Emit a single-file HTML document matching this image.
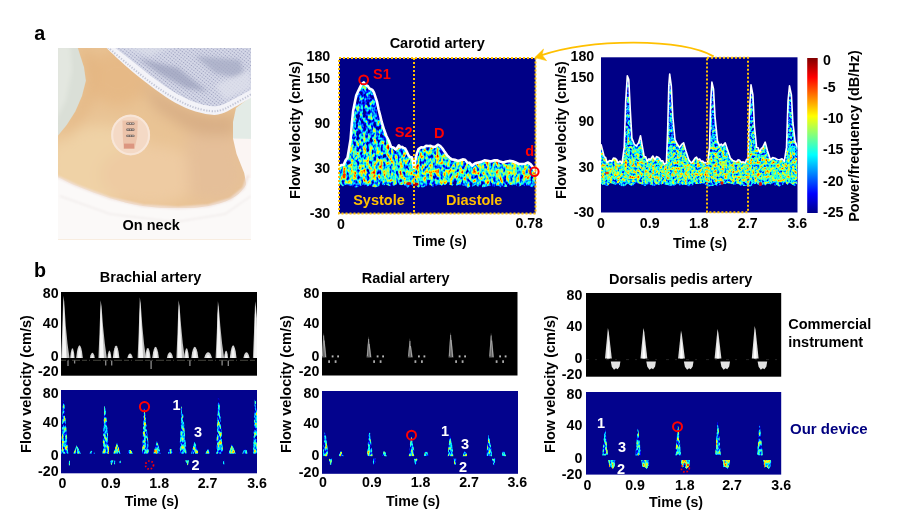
<!DOCTYPE html>
<html><head><meta charset="utf-8"><title>Figure</title>
<style>html,body{margin:0;padding:0;background:#fff}svg{display:block}text{font-family:"Liberation Sans", sans-serif;font-weight:bold}</style>
</head><body>
<svg width="911" height="520" viewBox="0 0 911 520">
<defs>
<filter id="jet" x="-2%" y="-2%" width="104%" height="104%" color-interpolation-filters="sRGB">
  <feTurbulence type="fractalNoise" baseFrequency="0.3 0.2" numOctaves="2" seed="4" result="n"/>
  <feColorMatrix in="n" type="matrix" values="1 0 0 0 0  1 0 0 0 0  1 0 0 0 0  0 0 0 0 1" result="ng"/>
  <feComposite in="SourceGraphic" in2="ng" operator="arithmetic" k1="0" k2="1" k3="1.5" k4="-0.75" result="v"/>
  <feComponentTransfer in="v" result="j">
    <feFuncR type="table" tableValues="0 0 0 0 0.5 1 1 1 0.5"/>
    <feFuncG type="table" tableValues="0 0 0.5 1 1 1 0.5 0 0"/>
    <feFuncB type="table" tableValues="0.54 1 1 1 0.5 0 0 0 0"/>
    <feFuncA type="linear" slope="0" intercept="1"/>
  </feComponentTransfer>
  <feGaussianBlur in="j" stdDeviation="0.45" result="jb"/>
  <feComposite in="jb" in2="SourceAlpha" operator="in"/>
</filter>
<filter id="jet2" x="-2%" y="-2%" width="104%" height="104%" color-interpolation-filters="sRGB">
  <feTurbulence type="fractalNoise" baseFrequency="0.4 0.34" numOctaves="2" seed="11" result="n"/>
  <feColorMatrix in="n" type="matrix" values="1 0 0 0 0  1 0 0 0 0  1 0 0 0 0  0 0 0 0 1" result="ng"/>
  <feComposite in="SourceGraphic" in2="ng" operator="arithmetic" k1="0" k2="1" k3="1.15" k4="-0.545" result="v"/>
  <feComponentTransfer in="v" result="j">
    <feFuncR type="table" tableValues="0 0 0 0 0.5 1 1 1 0.5"/>
    <feFuncG type="table" tableValues="0 0 0.5 1 1 1 0.5 0 0"/>
    <feFuncB type="table" tableValues="0.54 1 1 1 0.5 0 0 0 0"/>
    <feFuncA type="linear" slope="0" intercept="1"/>
  </feComponentTransfer>
  <feGaussianBlur in="j" stdDeviation="0.45" result="jb"/>
  <feComposite in="jb" in2="SourceAlpha" operator="in"/>
</filter>
<filter id="jet3" x="-2%" y="-2%" width="104%" height="104%" color-interpolation-filters="sRGB">
  <feTurbulence type="fractalNoise" baseFrequency="0.5 0.22" numOctaves="2" seed="5" result="n"/>
  <feColorMatrix in="n" type="matrix" values="1 0 0 0 0  1 0 0 0 0  1 0 0 0 0  0 0 0 0 1" result="ng"/>
  <feComposite in="SourceGraphic" in2="ng" operator="arithmetic" k1="0" k2="1" k3="1.25" k4="-0.625" result="v"/>
  <feComponentTransfer in="v" result="j">
    <feFuncR type="table" tableValues="0 0 0 0 0.5 1 1 1 0.5"/>
    <feFuncG type="table" tableValues="0 0 0.5 1 1 1 0.5 0 0"/>
    <feFuncB type="table" tableValues="0.54 1 1 1 0.5 0 0 0 0"/>
    <feFuncA type="linear" slope="0" intercept="1"/>
  </feComponentTransfer>
  <feGaussianBlur in="j" stdDeviation="0.45" result="jb"/>
  <feComposite in="jb" in2="SourceAlpha" operator="in"/>
</filter>
<linearGradient id="lvA" x1="0" y1="58" x2="0" y2="186" gradientUnits="userSpaceOnUse">
  <stop offset="0" stop-color="#2e2e2e"/><stop offset="0.55" stop-color="#3c3c3c"/><stop offset="0.8" stop-color="#6a6a6a"/><stop offset="0.93" stop-color="#747474"/><stop offset="0.975" stop-color="#585858"/><stop offset="1" stop-color="#303030"/>
</linearGradient>
<linearGradient id="lvB" x1="0" y1="390" x2="0" y2="474" gradientUnits="userSpaceOnUse">
  <stop offset="0" stop-color="#484848"/><stop offset="1" stop-color="#5e5e5e"/>
</linearGradient>
<linearGradient id="cbar" x1="0" y1="0" x2="0" y2="1">
  <stop offset="0" stop-color="#800000"/><stop offset="0.125" stop-color="#ff0000"/><stop offset="0.25" stop-color="#ff8000"/>
  <stop offset="0.375" stop-color="#ffff00"/><stop offset="0.5" stop-color="#80ff80"/><stop offset="0.625" stop-color="#00ffff"/>
  <stop offset="0.75" stop-color="#0080ff"/><stop offset="0.875" stop-color="#0000ff"/><stop offset="1" stop-color="#000089"/>
</linearGradient>
<filter id="b05"><feGaussianBlur stdDeviation="0.5"/></filter>
<filter id="b1"><feGaussianBlur stdDeviation="1"/></filter>
<filter id="b2"><feGaussianBlur stdDeviation="2"/></filter>
<filter id="b4"><feGaussianBlur stdDeviation="4"/></filter>
<filter id="b7" x="-30%" y="-30%" width="160%" height="160%"><feGaussianBlur stdDeviation="7"/></filter>
<clipPath id="cpPhoto"><rect x="58" y="48" width="193" height="191.5"/></clipPath>
<clipPath id="cpA1"><rect x="339" y="58" width="196.5" height="155.5"/></clipPath>
<clipPath id="cpA2"><rect x="601" y="57.3" width="196.5" height="155.2"/></clipPath>
</defs>
<text x="34.2" y="39.7" font-size="19.7" text-anchor="start" fill="#000" >a</text>
<text x="34.0" y="277.0" font-size="19.7" text-anchor="start" fill="#000" >b</text>
<g clip-path="url(#cpPhoto)">
<rect x="58" y="48" width="193" height="192" fill="#e9c394"/>
<defs><pattern id="mdots" width="2.6" height="2.6" patternUnits="userSpaceOnUse" patternTransform="rotate(38)"><rect width="2.6" height="2.6" fill="#d6d9e8"/><circle cx="1.3" cy="1.3" r="0.72" fill="#979bbb"/></pattern></defs>
<g filter="url(#b7)">
<ellipse cx="100" cy="165" rx="55" ry="40" fill="#efd2a6"/>
<ellipse cx="150" cy="175" rx="50" ry="30" fill="#eecba2"/>
<ellipse cx="118" cy="78" rx="30" ry="28" fill="#e6b986"/>
<path d="M140,80 L170,100 L192,111 L220,117 L236,112 L236,150 L215,142 L185,128 L155,108 Z" fill="#d8ae85"/>
<path d="M185,135 L235,135 L247,180 L228,203 L190,200 Z" fill="#e5bf99"/>
<path d="M80,50 L88,80 L82,100 L68,125 L60,140 L70,135 L92,100 L96,70 L92,50 Z" fill="#e2b27c" opacity="0.8"/>
</g>
<path d="M56,46 L77.2,46 L84,67.2 L85.9,80.7 L82,96 L75.3,111.5 L66.7,125 L56,138 Z" fill="#dadfd7" filter="url(#b05)"/>
<path d="M56,46 L70,46 L72,70 L66,100 L56,120 Z" fill="#e3e7e0" filter="url(#b2)"/>
<path d="M253,95 L236,108 L233,122 L233,139 L253,142 Z" fill="#e3ebe6" filter="url(#b05)"/>
<path d="M253,139 L233,138.5 L236.5,153.8 L244.2,173 L246.4,184.6 L242.3,197 L253,200 Z" fill="#fbf5f3" filter="url(#b05)"/>
<path d="M104.5,46.0 C108.2,49.5 119.4,60.4 127.0,67.0 C134.6,73.6 142.8,80.1 150.0,85.6 C157.2,91.0 163.5,95.7 170.2,99.7 C176.9,103.7 183.8,107.3 190.4,109.8 C197.0,112.3 204.7,114.0 210.0,114.6 C215.3,115.2 218.0,114.8 222.0,113.6 C226.0,112.4 228.8,110.3 234.0,107.5 C239.2,104.7 249.8,98.3 253.0,96.5 L253,46 Z" fill="#f3f3f8"/>
<path d="M113.0,46.0 C116.5,48.8 127.0,57.0 134.0,62.5 C141.0,68.0 148.3,74.1 155.0,79.0 C161.7,83.9 167.7,88.2 174.0,92.0 C180.3,95.8 187.0,99.2 193.0,101.5 C199.0,103.8 205.3,105.4 210.0,106.0 C214.7,106.6 217.3,106.2 221.0,105.2 C224.7,104.2 226.7,102.8 232.0,100.0 C237.3,97.2 249.5,90.4 253.0,88.5 L253,46 Z" fill="url(#mdots)" filter="url(#b05)"/>
<g filter="url(#b2)" opacity="0.75"><path d="M138,58 L178,68 L208,92 L186,88 L160,74 Z" fill="#9da2bd"/><path d="M195,56 L240,60 L246,80 L215,73 Z" fill="#a6abc4"/><path d="M118,46 L175,46 L150,56 Z" fill="#dcdfea"/><path d="M215,85 L250,70 L252,88 L225,100 Z" fill="#dfe1ec"/></g>
<path d="M108.0,47.5 C111.7,50.6 122.7,60.0 130.0,66.0 C137.3,72.0 145.0,78.4 152.0,83.5 C159.0,88.6 165.4,93.0 172.0,96.8 C178.6,100.6 185.2,104.1 191.5,106.5 C197.8,108.9 205.0,110.4 210.0,111.0 C215.0,111.6 217.7,111.1 221.5,110.0 C225.3,108.9 227.8,107.3 233.0,104.5 C238.2,101.7 249.7,95.2 253.0,93.3" fill="none" stroke="#c3c6d6" stroke-width="2" stroke-dasharray="1.3 1.5"/>
<path d="M56.0,176.3 C59.5,177.9 68.0,182.4 77.0,186.1 C86.0,189.8 98.9,194.9 109.9,198.2 C120.9,201.5 131.5,204.2 142.8,205.9 C154.1,207.6 166.9,208.1 177.9,208.1 C188.9,208.1 199.9,207.4 208.7,205.9 C217.5,204.4 224.8,202.2 230.6,199.3 C236.4,196.4 241.0,191.9 243.8,188.3 C246.6,184.8 246.9,179.7 247.5,178.0 L253,178 L253,242 L56,242 Z" fill="#fbf9f8"/>
<path d="M56,176.3 L77,186.1 L109.9,198.2 L142.8,205.9 L177.9,208.1 L208.7,205.9 L230.6,199.3 L243.8,188.3 L248.2,175.1" fill="none" stroke="#f1e3de" stroke-width="2.2" filter="url(#b1)"/>
<path d="M60,196 L110,214 L175,222 L225,214 L251,196" fill="none" stroke="#f1eceb" stroke-width="1.5" filter="url(#b1)"/>
<ellipse cx="130.6" cy="135" rx="19.5" ry="20.4" fill="#f4d9c5"/>
<ellipse cx="130.6" cy="135" rx="18.4" ry="19.3" fill="none" stroke="#f8e6d8" stroke-width="2"/>
<path d="M122.4,120.5 L137.8,120.5 L137.2,137 L134.6,149 L123.6,149 L122.8,137 Z" fill="#ecc3aa" filter="url(#b05)"/>
<rect x="126.3" y="122.4" width="8.2" height="2.3" rx="0.8" fill="#6f5f58"/>
<rect x="127.3" y="123.0" width="1.4" height="1.1" fill="#d9cfc8"/><rect x="129.8" y="123.0" width="1.4" height="1.1" fill="#d9cfc8"/><rect x="132.3" y="123.0" width="1.4" height="1.1" fill="#d9cfc8"/>
<rect x="126.3" y="128.6" width="8.2" height="2.3" rx="0.8" fill="#6f5f58"/>
<rect x="127.3" y="129.2" width="1.4" height="1.1" fill="#d9cfc8"/><rect x="129.8" y="129.2" width="1.4" height="1.1" fill="#d9cfc8"/><rect x="132.3" y="129.2" width="1.4" height="1.1" fill="#d9cfc8"/>
<rect x="126.3" y="134.70000000000002" width="8.2" height="2.3" rx="0.8" fill="#6f5f58"/>
<rect x="127.3" y="135.3" width="1.4" height="1.1" fill="#d9cfc8"/><rect x="129.8" y="135.3" width="1.4" height="1.1" fill="#d9cfc8"/><rect x="132.3" y="135.3" width="1.4" height="1.1" fill="#d9cfc8"/>
<rect x="124" y="143.6" width="10.2" height="4.9" fill="#dc9680" filter="url(#b05)"/>
</g>
<text x="151.2" y="229.6" font-size="14.5" text-anchor="middle" fill="#000" >On neck</text>
<rect x="339" y="58" width="196.5" height="155.5" fill="#000086"/>
<g clip-path="url(#cpA1)">
<polygon points="339.0,166.5 341.4,165.1 343.7,164.7 345.6,160.3 347.5,157.8 349.0,148.9 350.6,139.1 351.8,124.0 353.1,111.1 354.6,103.4 356.2,95.5 358.1,91.3 359.9,87.7 361.8,83.9 363.7,82.4 364.9,84.0 366.2,85.5 367.7,85.9 369.3,88.6 370.8,89.1 372.4,89.9 373.9,92.4 375.5,97.1 377.1,102.2 378.6,109.5 380.2,115.6 381.7,122.0 384.1,129.8 386.4,136.0 388.7,140.5 391.1,146.9 393.4,147.4 395.7,149.4 397.3,147.7 398.9,145.3 400.4,147.3 402.0,146.9 403.5,147.9 405.1,148.5 406.7,151.3 408.2,154.7 410.1,157.2 411.9,157.2 412.9,161.3 413.8,167.8 414.8,163.7 415.7,157.8 417.1,152.9 418.5,149.1 421.1,147.4 423.8,147.5 426.1,145.8 428.5,146.0 430.8,145.9 433.1,146.9 435.5,146.6 437.8,144.7 440.1,145.8 442.5,148.5 444.8,152.1 447.1,155.3 449.5,157.7 451.8,159.4 454.9,159.8 458.1,160.9 460.4,160.3 462.7,159.4 465.1,159.8 467.4,162.5 469.7,162.9 472.1,165.6 475.2,163.3 478.3,162.5 481.4,161.9 484.5,160.3 487.6,160.7 490.8,161.5 493.9,160.4 497.0,160.3 500.1,161.6 503.2,162.5 506.3,161.6 509.5,160.9 512.6,161.2 515.7,162.5 518.8,164.0 521.9,164.0 525.0,163.8 528.1,162.5 530.5,164.1 532.8,167.1 534.2,169.7 535.5,171.8 535.5,186.3 533.0,187.4 530.5,186.9 528.0,185.5 525.5,187.7 523.0,185.0 520.5,185.9 518.0,187.0 515.5,185.1 513.0,186.2 510.5,184.7 508.0,186.7 505.5,187.0 503.0,186.4 500.5,187.4 498.0,185.6 495.5,186.8 493.0,186.5 490.5,186.5 488.0,186.1 485.5,187.3 483.0,187.6 480.5,186.1 478.0,186.7 475.5,184.8 473.0,186.8 470.5,186.7 468.0,187.8 465.5,187.2 463.0,185.5 460.5,185.8 458.0,186.7 455.5,184.7 453.0,186.1 450.5,185.1 448.0,185.0 445.5,184.8 443.0,187.1 440.5,185.0 438.0,185.4 435.5,185.9 433.0,187.4 430.5,184.9 428.0,186.0 425.5,186.4 423.0,187.4 420.5,187.2 418.0,187.4 415.5,185.5 413.0,185.9 410.5,185.7 408.0,187.4 405.5,187.7 403.0,185.1 400.5,185.2 398.0,185.3 395.5,185.3 393.0,186.2 390.5,186.5 388.0,185.4 385.5,184.6 383.0,185.9 380.5,185.8 378.0,186.4 375.5,187.6 373.0,186.8 370.5,186.2 368.0,186.6 365.5,186.8 363.0,184.8 360.5,187.5 358.0,187.1 355.5,187.4 353.0,187.2 350.5,185.9 348.0,185.9 345.5,184.9 343.0,186.6 340.5,184.8 339.0,185.6" fill="url(#lvA)" filter="url(#jet)"/>
<g filter="url(#b05)"><ellipse cx="408.8" cy="183.6" rx="2.6" ry="1.6" fill="#e01000"/><ellipse cx="415.8" cy="184.3" rx="2.8" ry="1.8" fill="#c00000"/><ellipse cx="344" cy="176" rx="1.5" ry="2.4" fill="#f03000"/></g>
<polyline points="339.0,166.5 341.4,165.1 343.7,164.7 345.6,160.3 347.5,157.8 349.0,148.9 350.6,139.1 351.8,124.0 353.1,111.1 354.6,103.4 356.2,95.5 358.1,91.3 359.9,87.7 361.8,83.9 363.7,82.4 364.9,84.0 366.2,85.5 367.7,85.9 369.3,88.6 370.8,89.1 372.4,89.9 373.9,92.4 375.5,97.1 377.1,102.2 378.6,109.5 380.2,115.6 381.7,122.0 384.1,129.8 386.4,136.0 388.7,140.5 391.1,146.9 393.4,147.4 395.7,149.4 397.3,147.7 398.9,145.3 400.4,147.3 402.0,146.9 403.5,147.9 405.1,148.5 406.7,151.3 408.2,154.7 410.1,157.2 411.9,157.2 412.9,161.3 413.8,167.8 414.8,163.7 415.7,157.8 417.1,152.9 418.5,149.1 421.1,147.4 423.8,147.5 426.1,145.8 428.5,146.0 430.8,145.9 433.1,146.9 435.5,146.6 437.8,144.7 440.1,145.8 442.5,148.5 444.8,152.1 447.1,155.3 449.5,157.7 451.8,159.4 454.9,159.8 458.1,160.9 460.4,160.3 462.7,159.4 465.1,159.8 467.4,162.5 469.7,162.9 472.1,165.6 475.2,163.3 478.3,162.5 481.4,161.9 484.5,160.3 487.6,160.7 490.8,161.5 493.9,160.4 497.0,160.3 500.1,161.6 503.2,162.5 506.3,161.6 509.5,160.9 512.6,161.2 515.7,162.5 518.8,164.0 521.9,164.0 525.0,163.8 528.1,162.5 530.5,164.1 532.8,167.1 534.2,169.7 535.5,171.8" fill="none" stroke="#fff" stroke-width="2.6" stroke-linejoin="round"/>
</g>
<rect x="339" y="58" width="196.5" height="155.5" fill="none" stroke="#ffc000" stroke-width="2" stroke-dasharray="2 2"/>
<line x1="414" y1="58" x2="414" y2="213.5" stroke="#ffc000" stroke-width="2" stroke-dasharray="2 2"/>
<circle cx="363.7" cy="79.9" r="4.4" fill="none" stroke="#ff0000" stroke-width="2"/>
<circle cx="534.4" cy="171.8" r="4.2" fill="none" stroke="#ff0000" stroke-width="2"/>
<text x="373.0" y="79.3" font-size="14.5" text-anchor="start" fill="#ff0000" >S1</text>
<text x="394.8" y="136.6" font-size="14.5" text-anchor="start" fill="#ff0000" >S2</text>
<text x="434.0" y="137.5" font-size="14.5" text-anchor="start" fill="#ff0000" >D</text>
<text x="525.2" y="156.2" font-size="14.5" text-anchor="start" fill="#ff0000" >d</text>
<text x="353.2" y="205.3" font-size="14.5" text-anchor="start" fill="#ffc000" >Systole</text>
<text x="446.0" y="205.3" font-size="14.5" text-anchor="start" fill="#ffc000" >Diastole</text>
<text x="437.2" y="48.2" font-size="14.5" text-anchor="middle" fill="#000" >Carotid artery</text>
<text x="330.2" y="60.8" font-size="14.2" text-anchor="end" fill="#000" >180</text>
<text x="330.2" y="82.6" font-size="14.2" text-anchor="end" fill="#000" >150</text>
<text x="330.2" y="127.7" font-size="14.2" text-anchor="end" fill="#000" >90</text>
<text x="330.2" y="172.7" font-size="14.2" text-anchor="end" fill="#000" >30</text>
<text x="330.2" y="217.7" font-size="14.2" text-anchor="end" fill="#000" >-30</text>
<text transform="translate(300.4,130.0) rotate(-90)" font-size="14.5" text-anchor="middle" fill="#000">Flow velocity (cm/s)</text>
<text x="341.0" y="228.6" font-size="14.2" text-anchor="middle" fill="#000" >0</text>
<text x="529.2" y="228.2" font-size="14.2" text-anchor="middle" fill="#000" >0.78</text>
<text x="439.7" y="246.2" font-size="14.2" text-anchor="middle" fill="#000" >Time (s)</text>
<rect x="601" y="57.3" width="196.5" height="155.2" fill="#000086"/>
<g clip-path="url(#cpA2)">
<polygon points="601.0,144.3 604.2,156.6 605.7,157.7 607.2,162.8 609.5,160.5 611.9,161.2 613.4,158.0 614.9,158.2 616.5,159.4 618.0,162.8 620.0,161.1 622.0,163.4 624.2,147.4 625.7,101.2 627.3,75.9 628.8,79.6 630.3,110.4 631.9,138.1 634.3,144.3 636.5,145.8 638.6,142.8 640.5,135.7 642.0,144.3 644.2,156.6 645.7,156.7 647.3,161.2 648.8,158.8 650.3,159.7 652.8,156.0 655.0,159.7 656.5,156.6 658.0,157.2 659.6,158.3 661.1,161.2 662.7,160.7 664.2,164.3 666.4,162.8 667.6,132.0 668.8,85.8 669.7,74.1 671.3,85.8 672.8,116.6 675.0,139.7 677.4,144.3 679.6,147.4 681.8,144.3 683.6,142.8 685.8,150.5 688.8,159.7 690.4,162.0 691.9,162.8 693.5,160.4 695.0,158.2 696.5,157.2 698.1,159.7 699.6,159.1 701.2,161.2 702.7,161.0 704.2,162.8 705.8,162.6 707.3,164.3 709.5,147.4 710.7,101.2 711.9,82.1 713.5,88.9 715.0,116.6 717.5,141.2 719.6,145.8 721.2,144.1 722.7,145.8 725.2,142.8 727.3,148.9 730.4,158.2 732.7,160.4 735.0,161.2 736.6,161.6 738.1,159.7 739.6,160.3 741.2,162.2 743.2,161.9 745.2,162.8 746.6,159.3 748.0,159.7 749.2,116.6 751.0,84.9 752.9,95.0 754.4,125.8 756.6,147.4 758.1,147.8 759.7,152.0 761.2,148.7 762.7,147.4 765.2,142.1 767.4,150.5 770.4,159.7 772.7,157.6 775.1,158.2 777.4,159.5 779.7,159.7 782.0,158.8 784.3,161.2 786.5,147.4 788.0,101.2 789.5,85.8 791.4,95.0 792.9,122.7 795.1,141.2 797.5,147.4 797.5,183.4 795.0,186.3 792.5,185.0 790.0,183.8 787.5,185.0 785.0,183.4 782.5,185.0 780.0,186.4 777.5,186.1 775.0,185.5 772.5,184.1 770.0,184.5 767.5,183.8 765.0,185.8 762.5,185.0 760.0,185.8 757.5,184.4 755.0,184.0 752.5,185.9 750.0,186.5 747.5,186.0 745.0,185.9 742.5,185.9 740.0,185.7 737.5,184.0 735.0,185.0 732.5,184.4 730.0,183.4 727.5,183.4 725.0,184.2 722.5,184.1 720.0,185.5 717.5,186.4 715.0,184.7 712.5,186.3 710.0,186.5 707.5,186.4 705.0,184.5 702.5,184.0 700.0,184.0 697.5,183.9 695.0,184.0 692.5,185.3 690.0,186.2 687.5,186.0 685.0,184.8 682.5,185.4 680.0,185.9 677.5,183.6 675.0,185.4 672.5,186.2 670.0,185.8 667.5,185.7 665.0,184.8 662.5,183.9 660.0,185.8 657.5,184.4 655.0,185.9 652.5,186.4 650.0,184.6 647.5,184.6 645.0,186.3 642.5,185.6 640.0,183.8 637.5,183.7 635.0,183.8 632.5,186.2 630.0,185.9 627.5,183.8 625.0,185.9 622.5,186.4 620.0,185.4 617.5,184.4 615.0,185.1 612.5,183.7 610.0,183.3 607.5,186.4 605.0,185.4 602.5,185.0 601.0,184.3" fill="url(#lvA)" filter="url(#jet2)"/>
<g filter="url(#b05)"><ellipse cx="722" cy="183" rx="1.6" ry="1.8" fill="#e01000"/><ellipse cx="760.5" cy="184" rx="1.6" ry="2" fill="#e01000"/><ellipse cx="607" cy="173" rx="2" ry="1.3" fill="#f04000"/></g>
<polyline points="601.0,144.3 604.2,156.6 605.7,157.7 607.2,162.8 609.5,160.5 611.9,161.2 613.4,158.0 614.9,158.2 616.5,159.4 618.0,162.8 620.0,161.1 622.0,163.4 624.2,147.4 625.7,101.2 627.3,75.9 628.8,79.6 630.3,110.4 631.9,138.1 634.3,144.3 636.5,145.8 638.6,142.8 640.5,135.7 642.0,144.3 644.2,156.6 645.7,156.7 647.3,161.2 648.8,158.8 650.3,159.7 652.8,156.0 655.0,159.7 656.5,156.6 658.0,157.2 659.6,158.3 661.1,161.2 662.7,160.7 664.2,164.3 666.4,162.8 667.6,132.0 668.8,85.8 669.7,74.1 671.3,85.8 672.8,116.6 675.0,139.7 677.4,144.3 679.6,147.4 681.8,144.3 683.6,142.8 685.8,150.5 688.8,159.7 690.4,162.0 691.9,162.8 693.5,160.4 695.0,158.2 696.5,157.2 698.1,159.7 699.6,159.1 701.2,161.2 702.7,161.0 704.2,162.8 705.8,162.6 707.3,164.3 709.5,147.4 710.7,101.2 711.9,82.1 713.5,88.9 715.0,116.6 717.5,141.2 719.6,145.8 721.2,144.1 722.7,145.8 725.2,142.8 727.3,148.9 730.4,158.2 732.7,160.4 735.0,161.2 736.6,161.6 738.1,159.7 739.6,160.3 741.2,162.2 743.2,161.9 745.2,162.8 746.6,159.3 748.0,159.7 749.2,116.6 751.0,84.9 752.9,95.0 754.4,125.8 756.6,147.4 758.1,147.8 759.7,152.0 761.2,148.7 762.7,147.4 765.2,142.1 767.4,150.5 770.4,159.7 772.7,157.6 775.1,158.2 777.4,159.5 779.7,159.7 782.0,158.8 784.3,161.2 786.5,147.4 788.0,101.2 789.5,85.8 791.4,95.0 792.9,122.7 795.1,141.2 797.5,147.4" fill="none" stroke="#fff" stroke-width="1.6" stroke-linejoin="round"/>
</g>
<rect x="707" y="57.8" width="41" height="154.4" fill="none" stroke="#ffc000" stroke-width="2" stroke-dasharray="2 2"/>
<path d="M713.6,56.3 C 680,38 592,38.5 541,55.4" fill="none" stroke="#ffc000" stroke-width="1.9"/>
<path d="M534.8,57.6 L543.5,49.1 L541.9,54.9 L546.5,60.6 Z" fill="#ffc000" stroke="#ffc000" stroke-width="0.6" stroke-linejoin="round"/>
<text x="594.2" y="60.8" font-size="14.2" text-anchor="end" fill="#000" >180</text>
<text x="594.2" y="81.6" font-size="14.2" text-anchor="end" fill="#000" >150</text>
<text x="594.2" y="126.4" font-size="14.2" text-anchor="end" fill="#000" >90</text>
<text x="594.2" y="171.6" font-size="14.2" text-anchor="end" fill="#000" >30</text>
<text x="594.2" y="216.5" font-size="14.2" text-anchor="end" fill="#000" >-30</text>
<text transform="translate(566.2,130.0) rotate(-90)" font-size="14.5" text-anchor="middle" fill="#000">Flow velocity (cm/s)</text>
<text x="601.0" y="228.4" font-size="14.2" text-anchor="middle" fill="#000" >0</text>
<text x="649.7" y="228.4" font-size="14.2" text-anchor="middle" fill="#000" >0.9</text>
<text x="698.8" y="228.4" font-size="14.2" text-anchor="middle" fill="#000" >1.8</text>
<text x="747.7" y="228.4" font-size="14.2" text-anchor="middle" fill="#000" >2.7</text>
<text x="797.4" y="228.4" font-size="14.2" text-anchor="middle" fill="#000" >3.6</text>
<text x="700.0" y="248.0" font-size="14.2" text-anchor="middle" fill="#000" >Time (s)</text>
<rect x="807.2" y="58" width="10.5" height="155" fill="url(#cbar)"/>
<text x="823.0" y="65.2" font-size="14.2" text-anchor="start" fill="#000" >0</text>
<text x="823.0" y="91.9" font-size="14.2" text-anchor="start" fill="#000" >-5</text>
<text x="823.0" y="122.9" font-size="14.2" text-anchor="start" fill="#000" >-10</text>
<text x="823.0" y="154.3" font-size="14.2" text-anchor="start" fill="#000" >-15</text>
<text x="823.0" y="185.8" font-size="14.2" text-anchor="start" fill="#000" >-20</text>
<text x="823.0" y="216.8" font-size="14.2" text-anchor="start" fill="#000" >-25</text>
<text transform="translate(859.0,136.0) rotate(-90)" font-size="14.5" text-anchor="middle" fill="#000">Power/frequency (dB/Hz)</text>
<rect x="61" y="292" width="196" height="83.7" fill="#000"/>
<clipPath id="cpB1"><rect x="61" y="292" width="196" height="83.7"/></clipPath>
<g clip-path="url(#cpB1)">
<g filter="url(#b05)">
<polygon points="61.1,358.1 62.2,332.3 63.3,295.8 64.2,301.3 65.8,325.7 67.5,343.4 69.5,358.1" fill="#bdbdbd"/>
<polygon points="62.2,358.1 63.1,314.6 63.8,300.2 65.3,332.3 66.6,358.1" fill="#f6f6f6"/>
<polygon points="98.4,358.1 99.5,332.3 100.6,300.2 101.5,305.7 103.0,325.7 104.8,343.4 106.8,358.1" fill="#bdbdbd"/>
<polygon points="99.5,358.1 100.4,314.6 101.0,304.6 102.6,332.3 103.9,358.1" fill="#f6f6f6"/>
<polygon points="137.6,358.1 138.7,332.3 139.8,297.3 140.7,302.9 142.3,325.7 144.0,343.4 146.0,358.1" fill="#bdbdbd"/>
<polygon points="138.7,358.1 139.6,314.6 140.3,301.7 141.8,332.3 143.1,358.1" fill="#f6f6f6"/>
<polygon points="176.4,358.1 177.5,332.3 178.6,300.2 179.5,305.7 181.1,325.7 182.8,343.4 184.8,358.1" fill="#bdbdbd"/>
<polygon points="177.5,358.1 178.4,314.6 179.1,304.6 180.6,332.3 181.9,358.1" fill="#f6f6f6"/>
<polygon points="215.6,358.1 216.8,332.3 217.9,301.3 218.8,306.8 220.3,325.7 222.1,343.4 224.1,358.1" fill="#bdbdbd"/>
<polygon points="216.8,358.1 217.6,314.6 218.3,305.7 219.9,332.3 221.2,358.1" fill="#f6f6f6"/>
<polygon points="252.9,358.1 254.0,332.3 255.1,301.3 256.0,306.8 257.6,325.7 259.3,343.4 261.3,358.1" fill="#bdbdbd"/>
<polygon points="254.0,358.1 254.9,314.6 255.6,305.7 257.1,332.3 258.4,358.1" fill="#f6f6f6"/>
<polygon points="70.2,358.1 70.7,353.1 71.3,350.4 71.9,348.8 72.4,348.3 73.0,348.8 73.5,350.4 74.1,353.1 74.6,358.1" fill="#d4d4d4"/>
<polygon points="71.3,358.1 71.6,354.4 71.9,352.5 72.1,351.4 72.4,351.0 72.7,351.4 73.0,352.5 73.2,354.4 73.5,358.1" fill="#f4f4f4"/>
<polygon points="76.2,358.1 77.0,351.5 77.8,348.0 78.7,345.9 79.5,345.2 80.3,345.9 81.2,348.0 82.0,351.5 82.8,358.1" fill="#d4d4d4"/>
<polygon points="77.8,358.1 78.3,352.9 78.7,350.1 79.1,348.4 79.5,347.9 79.9,348.4 80.3,350.1 80.8,352.9 81.2,358.1" fill="#f4f4f4"/>
<polygon points="89.9,358.1 90.5,355.3 91.1,353.9 91.8,353.0 92.4,352.7 93.0,353.0 93.6,353.9 94.2,355.3 94.8,358.1" fill="#d4d4d4"/>
<polygon points="91.1,358.1 91.5,356.7 91.8,356.0 92.1,355.5 92.4,355.4 92.7,355.5 93.0,356.0 93.3,356.7 93.6,358.1" fill="#f4f4f4"/>
<polygon points="107.4,358.1 107.9,354.2 108.4,352.2 108.9,350.9 109.4,350.5 109.9,350.9 110.4,352.2 110.9,354.2 111.4,358.1" fill="#d4d4d4"/>
<polygon points="108.4,358.1 108.7,355.6 108.9,354.2 109.2,353.5 109.4,353.2 109.7,353.5 109.9,354.2 110.2,355.6 110.4,358.1" fill="#f4f4f4"/>
<polygon points="112.8,358.1 113.6,351.7 114.4,348.3 115.3,346.3 116.1,345.6 116.9,346.3 117.8,348.3 118.6,351.7 119.4,358.1" fill="#d4d4d4"/>
<polygon points="114.4,358.1 114.8,353.1 115.3,350.4 115.7,348.8 116.1,348.3 116.5,348.8 116.9,350.4 117.3,353.1 117.8,358.1" fill="#f4f4f4"/>
<polygon points="127.3,358.1 128.0,355.7 128.7,354.4 129.4,353.7 130.1,353.4 130.8,353.7 131.4,354.4 132.1,355.7 132.8,358.1" fill="#d4d4d4"/>
<polygon points="128.7,358.1 129.0,357.0 129.4,356.5 129.7,356.2 130.1,356.1 130.4,356.2 130.8,356.5 131.1,357.0 131.4,358.1" fill="#f4f4f4"/>
<polygon points="145.0,358.1 145.7,352.9 146.4,350.1 147.1,348.4 147.8,347.9 148.5,348.4 149.2,350.1 149.9,352.9 150.6,358.1" fill="#d4d4d4"/>
<polygon points="146.4,358.1 146.8,354.2 147.1,352.2 147.5,350.9 147.8,350.5 148.1,350.9 148.5,352.2 148.8,354.2 149.2,358.1" fill="#f4f4f4"/>
<polygon points="152.2,358.1 153.1,352.3 153.9,349.2 154.7,347.4 155.6,346.8 156.4,347.4 157.2,349.2 158.1,352.3 158.9,358.1" fill="#d4d4d4"/>
<polygon points="153.9,358.1 154.3,353.7 154.7,351.3 155.1,349.9 155.6,349.4 156.0,349.9 156.4,351.3 156.8,353.7 157.2,358.1" fill="#f4f4f4"/>
<polygon points="166.9,358.1 167.6,355.1 168.4,353.5 169.2,352.6 170.0,352.3 170.7,352.6 171.5,353.5 172.3,355.1 173.1,358.1" fill="#d4d4d4"/>
<polygon points="168.4,358.1 168.8,356.5 169.2,355.6 169.6,355.1 170.0,355.0 170.4,355.1 170.7,355.6 171.1,356.5 171.5,358.1" fill="#f4f4f4"/>
<polygon points="184.2,358.1 184.8,353.1 185.4,350.4 186.0,348.8 186.6,348.3 187.2,348.8 187.8,350.4 188.4,353.1 189.0,358.1" fill="#d4d4d4"/>
<polygon points="185.4,358.1 185.7,354.4 186.0,352.5 186.3,351.4 186.6,351.0 186.9,351.4 187.2,352.5 187.5,354.4 187.8,358.1" fill="#f4f4f4"/>
<polygon points="191.3,358.1 192.1,352.3 193.0,349.2 193.9,347.4 194.8,346.8 195.7,347.4 196.6,349.2 197.5,352.3 198.4,358.1" fill="#d4d4d4"/>
<polygon points="193.0,358.1 193.5,353.7 193.9,351.3 194.4,349.9 194.8,349.4 195.3,349.9 195.7,351.3 196.1,353.7 196.6,358.1" fill="#f4f4f4"/>
<polygon points="204.2,358.1 205.2,355.1 206.2,353.5 207.1,352.6 208.1,352.3 209.1,352.6 210.1,353.5 211.0,355.1 212.0,358.1" fill="#d4d4d4"/>
<polygon points="206.2,358.1 206.7,356.5 207.1,355.6 207.6,355.1 208.1,355.0 208.6,355.1 209.1,355.6 209.6,356.5 210.1,358.1" fill="#f4f4f4"/>
<polygon points="224.1,358.1 224.6,354.3 225.1,352.3 225.6,351.1 226.1,350.7 226.6,351.1 227.1,352.3 227.6,354.3 228.1,358.1" fill="#d4d4d4"/>
<polygon points="225.1,358.1 225.3,355.7 225.6,354.4 225.8,353.7 226.1,353.4 226.3,353.7 226.6,354.4 226.8,355.7 227.1,358.1" fill="#f4f4f4"/>
<polygon points="229.8,358.1 230.7,351.5 231.5,348.0 232.3,345.9 233.2,345.2 234.0,345.9 234.8,348.0 235.7,351.5 236.5,358.1" fill="#d4d4d4"/>
<polygon points="231.5,358.1 231.9,352.9 232.3,350.1 232.8,348.4 233.2,347.9 233.6,348.4 234.0,350.1 234.4,352.9 234.8,358.1" fill="#f4f4f4"/>
<polygon points="243.4,358.1 244.1,355.1 244.9,353.5 245.7,352.6 246.5,352.3 247.2,352.6 248.0,353.5 248.8,355.1 249.6,358.1" fill="#d4d4d4"/>
<polygon points="244.9,358.1 245.3,356.5 245.7,355.6 246.1,355.1 246.5,355.0 246.9,355.1 247.2,355.6 247.6,356.5 248.0,358.1" fill="#f4f4f4"/>
</g>
<line x1="61" y1="360.3" x2="257" y2="360.3" stroke="#55554c" stroke-width="0.8" stroke-dasharray="5 2 1 3 8 2"/>
<line x1="68.0" y1="360.5" x2="68.0" y2="366.0" stroke="#8c8c8c" stroke-width="1.3"/>
<line x1="74.6" y1="360.5" x2="74.6" y2="363.4" stroke="#8c8c8c" stroke-width="1.3"/>
<line x1="105.7" y1="360.5" x2="105.7" y2="365.6" stroke="#8c8c8c" stroke-width="1.3"/>
<line x1="111.7" y1="360.5" x2="111.7" y2="365.6" stroke="#8c8c8c" stroke-width="1.3"/>
<line x1="151.1" y1="360.5" x2="151.1" y2="368.9" stroke="#8c8c8c" stroke-width="1.3"/>
<line x1="189.9" y1="360.5" x2="189.9" y2="366.0" stroke="#8c8c8c" stroke-width="1.3"/>
<line x1="222.1" y1="360.5" x2="222.1" y2="365.6" stroke="#8c8c8c" stroke-width="1.3"/>
<line x1="228.3" y1="360.5" x2="228.3" y2="366.0" stroke="#8c8c8c" stroke-width="1.3"/>
</g>
<rect x="61" y="390" width="196" height="83.3" fill="#03038d"/>
<clipPath id="cpB2"><rect x="61" y="390" width="196" height="83.3"/></clipPath>
<g clip-path="url(#cpB2)"><g filter="url(#jet3)" fill="url(#lvB)">
<polygon points="61.1,453.7 62.9,400.0 64.3,402.0 67.3,439.7 68.3,453.7"/>
<polygon points="102.4,453.7 104.2,405.7 105.6,407.7 108.6,439.7 109.6,453.7"/>
<polygon points="141.9,453.7 143.7,407.5 145.1,409.5 148.1,439.7 149.1,453.7"/>
<polygon points="179.4,453.7 181.2,406.0 182.6,408.0 185.6,439.7 186.6,453.7"/>
<polygon points="216.1,453.7 217.9,397.5 219.3,399.5 222.3,439.7 223.3,453.7"/>
<polygon points="252.9,453.7 254.7,399.5 256.1,401.5 259.1,439.7 260.1,453.7"/>
<polygon points="73.2,453.7 75.4,448.3 77.0,444.7 78.8,448.8 81.0,453.7" fill="#707070"/>
<polygon points="113.2,453.7 115.4,447.1 117.0,442.7 118.8,447.6 121.0,453.7" fill="#707070"/>
<polygon points="153.2,453.7 155.4,445.9 157.0,440.7 158.8,446.6 161.0,453.7" fill="#707070"/>
<polygon points="190.9,453.7 193.1,445.9 194.7,440.7 196.5,446.6 198.7,453.7" fill="#707070"/>
<polygon points="228.2,453.7 230.4,447.7 232.0,443.7 233.8,448.2 236.0,453.7" fill="#707070"/>
<polygon points="89.2,453.7 91.0,450.7 93.5,451.2 95.0,453.7"/>
<polygon points="127.2,453.7 129.0,449.7 131.5,450.2 133.0,453.7"/>
<polygon points="167.7,453.7 169.5,448.7 172.0,449.2 173.5,453.7"/>
<polygon points="205.2,453.7 207.0,449.2 209.5,449.7 211.0,453.7"/>
<polygon points="242.2,453.7 244.0,449.2 246.5,449.7 248.0,453.7"/>
<rect x="68.8" y="460.5" width="1.5" height="5"/>
<rect x="113.8" y="460.5" width="1.5" height="4"/>
<rect x="119.3" y="460.5" width="1.5" height="3"/>
<rect x="222.8" y="460.5" width="1.5" height="4"/>
<polygon points="109.5,460.3 113.5,460.3 112.2,465.5 111.0,464.5" fill="#747474"/>
<polygon points="185.2,460.3 189.2,460.3 187.9,465.5 186.7,464.5" fill="#747474"/>
</g></g>
<circle cx="144.5" cy="406.7" r="4.6" fill="none" stroke="#ff0000" stroke-width="2"/>
<circle cx="149.5" cy="465" r="4" fill="none" stroke="#ff0000" stroke-width="1.7" stroke-dasharray="1.5 1.9"/>
<text x="176.5" y="410.2" font-size="14.5" text-anchor="middle" fill="#fff" >1</text>
<text x="198.0" y="436.9" font-size="14.5" text-anchor="middle" fill="#fff" >3</text>
<text x="195.5" y="470.2" font-size="14.5" text-anchor="middle" fill="#fff" >2</text>
<text x="150.6" y="282.3" font-size="14.5" text-anchor="middle" fill="#000" >Brachial artery</text>
<text x="58.6" y="297.5" font-size="14.2" text-anchor="end" fill="#000" >80</text>
<text x="58.6" y="327.5" font-size="14.2" text-anchor="end" fill="#000" >40</text>
<text x="58.6" y="360.5" font-size="14.2" text-anchor="end" fill="#000" >0</text>
<text x="58.6" y="375.7" font-size="14.2" text-anchor="end" fill="#000" >-20</text>
<text x="58.6" y="397.6" font-size="14.2" text-anchor="end" fill="#000" >80</text>
<text x="58.6" y="427.2" font-size="14.2" text-anchor="end" fill="#000" >40</text>
<text x="58.6" y="460.2" font-size="14.2" text-anchor="end" fill="#000" >0</text>
<text x="58.6" y="475.6" font-size="14.2" text-anchor="end" fill="#000" >-20</text>
<text transform="translate(30.6,384.0) rotate(-90)" font-size="14.5" text-anchor="middle" fill="#000">Flow velocity (cm/s)</text>
<text x="62.5" y="488.2" font-size="14.2" text-anchor="middle" fill="#000" >0</text>
<text x="110.9" y="488.2" font-size="14.2" text-anchor="middle" fill="#000" >0.9</text>
<text x="159.2" y="488.2" font-size="14.2" text-anchor="middle" fill="#000" >1.8</text>
<text x="207.5" y="488.2" font-size="14.2" text-anchor="middle" fill="#000" >2.7</text>
<text x="257.0" y="488.2" font-size="14.2" text-anchor="middle" fill="#000" >3.6</text>
<text x="151.7" y="506.2" font-size="14.2" text-anchor="middle" fill="#000" >Time (s)</text>
<rect x="322" y="292" width="195.5" height="83.5" fill="#000"/>
<g filter="url(#b05)">
<polygon points="322.0,357.5 323.5,332.5 324.6,339.5 326.5,357.5" fill="#626262"/>
<line x1="323.7" y1="335.5" x2="322.4" y2="356" stroke="#b5b5b5" stroke-width="0.7"/>
<line x1="324.1" y1="340.5" x2="325.5" y2="357" stroke="#c8c8c8" stroke-width="0.7"/>
<rect x="331.7" y="355.4" width="1.8" height="2" fill="#b8b8b8"/>
<rect x="337.2" y="355.4" width="1.8" height="2" fill="#b8b8b8"/>
<rect x="328.2" y="360.3" width="1.8" height="2.6" fill="#ababab"/>
<rect x="334.7" y="360.3" width="1.8" height="2.6" fill="#ababab"/>
<polygon points="366.5,357.5 368.5,336.0 369.6,343.0 371.5,357.5" fill="#626262"/>
<line x1="368.7" y1="339.0" x2="367.4" y2="356" stroke="#b5b5b5" stroke-width="0.7"/>
<line x1="369.1" y1="344.0" x2="370.5" y2="357" stroke="#c8c8c8" stroke-width="0.7"/>
<rect x="376.7" y="355.4" width="1.8" height="2" fill="#b8b8b8"/>
<rect x="382.2" y="355.4" width="1.8" height="2" fill="#b8b8b8"/>
<rect x="373.2" y="360.3" width="1.8" height="2.6" fill="#ababab"/>
<rect x="379.7" y="360.3" width="1.8" height="2.6" fill="#ababab"/>
<polygon points="407.8,357.5 409.8,338.0 410.9,345.0 412.8,357.5" fill="#626262"/>
<line x1="410.0" y1="341.0" x2="408.7" y2="356" stroke="#b5b5b5" stroke-width="0.7"/>
<line x1="410.4" y1="346.0" x2="411.8" y2="357" stroke="#c8c8c8" stroke-width="0.7"/>
<rect x="418.0" y="355.4" width="1.8" height="2" fill="#b8b8b8"/>
<rect x="423.5" y="355.4" width="1.8" height="2" fill="#b8b8b8"/>
<rect x="414.5" y="360.3" width="1.8" height="2.6" fill="#ababab"/>
<rect x="421.0" y="360.3" width="1.8" height="2.6" fill="#ababab"/>
<polygon points="448.5,357.5 450.5,332.0 451.6,339.0 453.5,357.5" fill="#626262"/>
<line x1="450.7" y1="335.0" x2="449.4" y2="356" stroke="#b5b5b5" stroke-width="0.7"/>
<line x1="451.1" y1="340.0" x2="452.5" y2="357" stroke="#c8c8c8" stroke-width="0.7"/>
<rect x="458.7" y="355.4" width="1.8" height="2" fill="#b8b8b8"/>
<rect x="464.2" y="355.4" width="1.8" height="2" fill="#b8b8b8"/>
<rect x="455.2" y="360.3" width="1.8" height="2.6" fill="#ababab"/>
<rect x="461.7" y="360.3" width="1.8" height="2.6" fill="#ababab"/>
<polygon points="489.0,357.5 491.0,332.5 492.1,339.5 494.0,357.5" fill="#626262"/>
<line x1="491.2" y1="335.5" x2="489.9" y2="356" stroke="#b5b5b5" stroke-width="0.7"/>
<line x1="491.6" y1="340.5" x2="493.0" y2="357" stroke="#c8c8c8" stroke-width="0.7"/>
<rect x="499.2" y="355.4" width="1.8" height="2" fill="#b8b8b8"/>
<rect x="504.7" y="355.4" width="1.8" height="2" fill="#b8b8b8"/>
<rect x="495.7" y="360.3" width="1.8" height="2.6" fill="#ababab"/>
<rect x="502.2" y="360.3" width="1.8" height="2.6" fill="#ababab"/>
</g>
<rect x="322" y="391" width="196.0" height="82.8" fill="#03038d"/>
<g filter="url(#jet3)" fill="url(#lvB)">
<polygon points="322.6,456.2 324.5,432.0 325.8,434.0 328.0,450.2 328.4,456.2"/>
<polygon points="366.8,456.2 368.7,431.2 370.0,433.2 372.2,450.2 372.6,456.2"/>
<polygon points="408.8,456.2 410.7,436.0 412.0,438.0 414.2,450.2 414.6,456.2"/>
<polygon points="447.6,456.2 449.5,435.0 450.8,437.0 453.0,450.2 453.4,456.2"/>
<polygon points="486.3,456.2 488.2,434.5 489.5,436.5 491.7,450.2 492.1,456.2"/>
<polygon points="338.4,456.2 340.0,451.2 342.0,451.7 343.6,456.2"/>
<polygon points="381.9,456.2 383.5,451.2 385.5,451.7 387.1,456.2"/>
<polygon points="423.6,456.2 425.2,451.2 427.2,451.7 428.8,456.2"/>
<polygon points="462.4,456.2 464.0,451.2 466.0,451.7 467.6,456.2"/>
<polygon points="501.1,456.2 502.7,451.2 504.7,451.7 506.3,456.2"/>
<polygon points="328.5,458.6 332.5,458.6 331.3,465.2 329.9,464.5"/>
<polygon points="372.0,458.6 376.0,458.6 374.8,465.2 373.4,464.5"/>
<polygon points="413.7,458.6 417.7,458.6 416.5,465.2 415.1,464.5"/>
<polygon points="453.0,458.6 457.0,458.6 455.8,465.2 454.4,464.5"/>
<polygon points="491.7,458.6 495.7,458.6 494.5,465.2 493.1,464.5"/>
</g>
<circle cx="411.5" cy="435.2" r="4.5" fill="none" stroke="#ff0000" stroke-width="2"/>
<text x="445.0" y="435.9" font-size="14.5" text-anchor="middle" fill="#fff" >1</text>
<text x="465.0" y="448.9" font-size="14.5" text-anchor="middle" fill="#fff" >3</text>
<text x="463.0" y="471.9" font-size="14.5" text-anchor="middle" fill="#fff" >2</text>
<text x="405.7" y="282.8" font-size="14.5" text-anchor="middle" fill="#000" >Radial artery</text>
<text x="319.3" y="297.7" font-size="14.2" text-anchor="end" fill="#000" >80</text>
<text x="319.3" y="327.7" font-size="14.2" text-anchor="end" fill="#000" >40</text>
<text x="319.3" y="360.9" font-size="14.2" text-anchor="end" fill="#000" >0</text>
<text x="319.3" y="375.9" font-size="14.2" text-anchor="end" fill="#000" >-20</text>
<text x="319.3" y="397.6" font-size="14.2" text-anchor="end" fill="#000" >80</text>
<text x="319.3" y="427.6" font-size="14.2" text-anchor="end" fill="#000" >40</text>
<text x="319.3" y="460.2" font-size="14.2" text-anchor="end" fill="#000" >0</text>
<text x="319.3" y="476.8" font-size="14.2" text-anchor="end" fill="#000" >-20</text>
<text transform="translate(291.0,384.0) rotate(-90)" font-size="14.5" text-anchor="middle" fill="#000">Flow velocity (cm/s)</text>
<text x="322.9" y="487.4" font-size="14.2" text-anchor="middle" fill="#000" >0</text>
<text x="371.9" y="487.4" font-size="14.2" text-anchor="middle" fill="#000" >0.9</text>
<text x="420.6" y="487.4" font-size="14.2" text-anchor="middle" fill="#000" >1.8</text>
<text x="469.0" y="487.4" font-size="14.2" text-anchor="middle" fill="#000" >2.7</text>
<text x="517.3" y="487.4" font-size="14.2" text-anchor="middle" fill="#000" >3.6</text>
<text x="413.0" y="505.7" font-size="14.2" text-anchor="middle" fill="#000" >Time (s)</text>
<rect x="586" y="293" width="195.20000000000005" height="83.7" fill="#000"/>
<g filter="url(#b05)">
<polygon points="605.0,358.4 607.9,328.0 608.8,332.0 611.8,358.4" fill="#dedede"/>
<polygon points="607.0,358.4 608.2,336.0 609.8,358.4" fill="#fff"/>
<path d="M610.8,361.4 h9.6 l-0.8,5.2 l-2,2.6 l-1.6,-1 l-2,1.6 l-2.2,-3 Z" fill="#e2e2e2"/>
<polygon points="640.5,358.4 643.4,328.0 644.3,332.0 647.3,358.4" fill="#dedede"/>
<polygon points="642.5,358.4 643.7,336.0 645.3,358.4" fill="#fff"/>
<path d="M646.3,361.4 h9.6 l-0.8,5.2 l-2,2.6 l-1.6,-1 l-2,1.6 l-2.2,-3 Z" fill="#e2e2e2"/>
<polygon points="678.1,358.4 681.0,330.5 681.9,334.5 684.9,358.4" fill="#dedede"/>
<polygon points="680.1,358.4 681.3,338.5 682.9,358.4" fill="#fff"/>
<path d="M683.9,361.4 h9.6 l-0.8,5.2 l-2,2.6 l-1.6,-1 l-2,1.6 l-2.2,-3 Z" fill="#e2e2e2"/>
<polygon points="714.6,358.4 717.5,329.0 718.4,333.0 721.4,358.4" fill="#dedede"/>
<polygon points="716.6,358.4 717.8,337.0 719.4,358.4" fill="#fff"/>
<path d="M720.4,361.4 h9.6 l-0.8,5.2 l-2,2.6 l-1.6,-1 l-2,1.6 l-2.2,-3 Z" fill="#e2e2e2"/>
<polygon points="751.8,358.4 754.7,326.0 755.6,330.0 758.6,358.4" fill="#dedede"/>
<polygon points="753.8,358.4 755.0,334.0 756.6,358.4" fill="#fff"/>
<path d="M757.6,361.4 h9.6 l-0.8,5.2 l-2,2.6 l-1.6,-1 l-2,1.6 l-2.2,-3 Z" fill="#e2e2e2"/>
</g>
<line x1="586" y1="359.6" x2="781.2" y2="359.6" stroke="#2c2c2c" stroke-width="0.8" stroke-dasharray="3 6 2 9"/>
<rect x="586" y="392" width="195.20000000000005" height="82.6" fill="#03038d"/>
<g filter="url(#jet3)" fill="url(#lvB)">
<polygon points="602.2,455.6 604.6,427.5 605.6,430.5 608.2,455.6"/>
<polygon points="635.2,455.6 637.6,428.0 638.6,431.0 641.2,455.6"/>
<polygon points="675.2,455.6 677.6,424.5 678.6,427.5 681.2,455.6"/>
<polygon points="715.0,455.6 717.4,421.3 718.4,424.3 721.0,455.6"/>
<polygon points="756.9,455.6 759.3,424.0 760.3,427.0 762.9,455.6"/>
<path d="M608,460 L615.5,460 L615.0,466 L613.2,469.3 L610.8,467 L609.3,467.5 Z" fill="#767676"/>
<path d="M641,460 L649.5,460 L649.0,466 L646.8,469.3 L644.2,467 L642.3,467.5 Z" fill="#767676"/>
<path d="M680.5,460 L690,460 L689.5,466 L686.8,469.3 L684.2,467 L681.8,467.5 Z" fill="#767676"/>
<path d="M722,460 L730,460 L729.5,466 L727.5,469.3 L725.0,467 L723.3,467.5 Z" fill="#767676"/>
<path d="M763,460 L771.5,460 L771.0,466 L768.8,469.3 L766.2,467 L764.3,467.5 Z" fill="#767676"/>
</g>
<circle cx="677.5" cy="426.7" r="4.5" fill="none" stroke="#ff0000" stroke-width="2"/>
<circle cx="685.3" cy="468" r="4" fill="none" stroke="#ff0000" stroke-width="1.7" stroke-dasharray="1.5 1.9"/>
<text x="601.0" y="427.7" font-size="14.5" text-anchor="middle" fill="#fff" >1</text>
<text x="622.0" y="451.9" font-size="14.5" text-anchor="middle" fill="#fff" >3</text>
<text x="621.0" y="473.9" font-size="14.5" text-anchor="middle" fill="#fff" >2</text>
<text x="680.7" y="284.3" font-size="14.5" text-anchor="middle" fill="#000" >Dorsalis pedis artery</text>
<text x="582.3" y="300.1" font-size="14.2" text-anchor="end" fill="#000" >80</text>
<text x="582.3" y="330.6" font-size="14.2" text-anchor="end" fill="#000" >40</text>
<text x="582.3" y="362.6" font-size="14.2" text-anchor="end" fill="#000" >0</text>
<text x="582.3" y="378.8" font-size="14.2" text-anchor="end" fill="#000" >-20</text>
<text x="582.3" y="399.1" font-size="14.2" text-anchor="end" fill="#000" >80</text>
<text x="582.3" y="429.6" font-size="14.2" text-anchor="end" fill="#000" >40</text>
<text x="582.3" y="463.1" font-size="14.2" text-anchor="end" fill="#000" >0</text>
<text x="582.3" y="478.8" font-size="14.2" text-anchor="end" fill="#000" >-20</text>
<text transform="translate(554.6,384.0) rotate(-90)" font-size="14.5" text-anchor="middle" fill="#000">Flow velocity (cm/s)</text>
<text x="587.5" y="490.3" font-size="14.2" text-anchor="middle" fill="#000" >0</text>
<text x="635.0" y="490.3" font-size="14.2" text-anchor="middle" fill="#000" >0.9</text>
<text x="684.8" y="490.3" font-size="14.2" text-anchor="middle" fill="#000" >1.8</text>
<text x="732.0" y="490.3" font-size="14.2" text-anchor="middle" fill="#000" >2.7</text>
<text x="781.2" y="490.3" font-size="14.2" text-anchor="middle" fill="#000" >3.6</text>
<text x="676.0" y="506.5" font-size="14.2" text-anchor="middle" fill="#000" >Time (s)</text>
<text x="788.2" y="328.6" font-size="14.5" text-anchor="start" fill="#000" >Commercial</text>
<text x="788.2" y="346.7" font-size="14.5" text-anchor="start" fill="#000" >instrument</text>
<text x="790.0" y="433.7" font-size="14.6" text-anchor="start" fill="#000080" textLength="77.6" lengthAdjust="spacingAndGlyphs">Our device</text>
</svg>
</body></html>
